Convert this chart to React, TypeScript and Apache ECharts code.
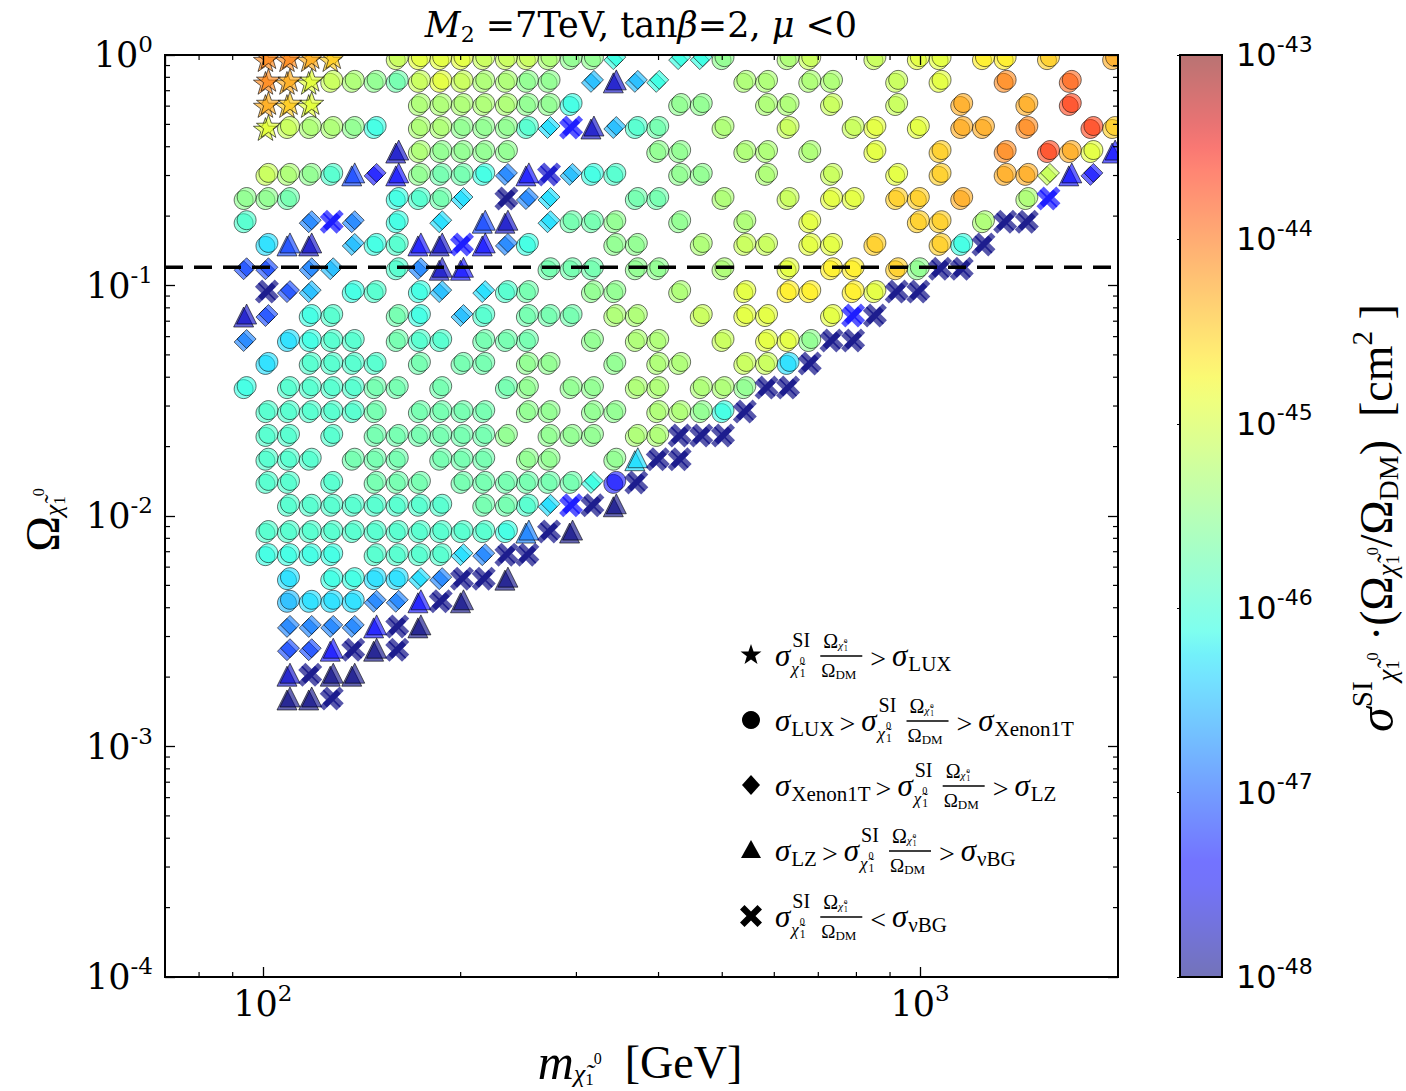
import { useEffect, useRef } from "react";
import * as echarts from "echarts";

const SERIF = '"Liberation Serif", "DejaVu Serif", serif';
const WIDE_SERIF = '"DejaVu Serif", "Liberation Serif", serif';
const SANS = '"DejaVu Sans", sans-serif';

// Neutralino mass of each scan column (GeV)
const MASS_COLUMNS = [
  94.5, 102, 110, 118.7, 128, 138, 149, 161, 174, 187.5, 202, 218, 236, 254, 274, 296, 319, 345, 372, 401,
  433, 467, 504, 544, 587, 633, 683, 737, 795, 858, 926, 999, 1078, 1163, 1255, 1354, 1461, 1576, 1701, 1835, 1980,
];

// Relic density of each scan row
const OMEGA_ROWS = [
  0.979, 0.78, 0.619, 0.492, 0.387, 0.308, 0.242, 0.192, 0.153, 0.12, 0.0955, 0.0752, 0.0586, 0.0466,
  0.0366, 0.0288, 0.0227, 0.0179, 0.0142, 0.0113, 0.00869, 0.0069, 0.00543, 0.00433, 0.00337, 0.00267,
  0.00208, 0.00164,
];

// Scan points per row: "<column><class><level>"
// class: s > LUX, o LUX..Xenon1T, d Xenon1T..LZ, t LZ..nuBG, x < nuBG
const SCAN_ROWS = [
  "1sr 2sr 3sq 4sp 7om 8on 9on 10on 11om 12om 13om 14ol 15ok 16ok 17dh 20dh 21dh 22ok 25ol 26om 29om 31on 32on 34oo 35oo 37op 40oq",
  "1sr 2sq 3sn 4om 5ol 6ok 7oj 8om 9on 10om 11ol 12ol 13ok 14ok 16df 17tb 18df 19dh 23ol 24ol 26ol 27ol 30om 32on 35or 38os",
  "1sq 2sp 3sn 8ol 9ol 10ol 11ol 12ol 13ok 14ok 15oh 20ok 21ok 24ol 25ol 27om 30om 33oq 36oq 38ot",
  "1sn 2om 3ol 4ol 5ok 6oh 8ol 9ol 10ok 11ok 12ok 13oi 14dg 15xc 16tb 17df 18oi 19oj 22ol 25om 28om 29on 31on 33oq 34oq 36or 39ot 40op",
  "7tb 8ol 9ok 10ok 11ok 12ok 19ok 20ok 23ol 24ol 26ol 29on 32op 35or 37ot 38oq 39on 40tc",
  "1om 2ol 3ok 4oi 5td 6dc 7tc 8ok 9oj 10oj 11oh 12de 13tc 14xb 15df 16oh 17oi 20ok 21ok 24ol 27om 30on 32op 35oq 36oq 37dm 38tc 39dc",
  "0ok 1ok 2oj 7oh 8oi 9oj 10dg 12xa 13de 14dg 18oj 19oj 22ol 25om 27on 28on 30op 31op 33oq 36ol 37xc",
  "0oi 3de 4xc 5de 7oh 9dg 11td 12tb 14dg 15oj 16oj 17ok 20ok 23ol 26on 31op 32op 34ol 35xa 36xa",
  "1og 2td 3tb 5df 6oh 7oi 8tc 9tb 10xc 11tc 12de 13oh 17ok 18ok 21ol 23om 24om 26on 27on 29op 32op 33oh 34xa",
  "0dd 1dd 3de 4df 7oi 8de 9tb 10tc 14oj 15oj 16oj 18ok 19ok 22ol 25on 27oo 28oo 30op 31ok 32xa 33xa",
  "1xa 2dd 3df 5oh 6oi 8oh 9df 11dg 12oi 13oj 16ok 17ok 20ol 23on 25oo 26oo 28oo 29on 30xa 31xa",
  "0tb 1dd 3oh 4oi 7oj 8oh 10df 11oi 13oj 14oj 15oj 17ol 18ol 21om 23on 24on 27on 28xc 29xa",
  "0de 2og 3oh 4oi 5oi 7oj 8oi 9oi 11oj 12oj 13oj 16ok 18ol 19ol 22om 24on 25on 26ok 27xa 28xa",
  "1og 3oi 4oi 5oi 6oi 8oj 10oj 11oj 13ok 14ok 17ok 19ol 20ol 23om 24om 25og 26xa",
  "0oh 2oi 3oi 4oi 5oi 6oj 7oj 9oj 12oj 13ok 15ok 16ok 18ol 19ol 21ol 22ol 23ok 24xa 25xa",
  "1oi 2oi 3oi 4oi 5oi 6oj 8oj 9oj 10oj 11oj 13ok 14ok 16ok 17ok 19ol 20ol 21ok 22oh 23xa",
  "1oi 2oi 4oi 6oj 7oj 8oj 9oj 10oj 11oj 12ok 14ok 15ok 16ok 18ol 19ol 20xa 21xa 22xa",
  "1oi 2oi 3oi 5oj 6oj 7oj 9oj 10oj 11oj 13ok 14ok 17ok 18tg 19xa 20xa",
  "1oi 2oi 4oi 6oj 7oj 8oj 10oj 11oj 12oj 13oj 14oj 15oj 16dh 17oc 18xa",
  "2oi 3oi 4oi 5oi 6oi 7oi 8oi 9oi 11oj 12oj 13oi 14dg 15xc 16xa 17ta",
  "1oi 2oi 3oi 4oi 5oi 6oi 7oi 8oi 9oi 10oi 11oi 12oh 13te 14xa 15ta",
  "1oh 2oh 3oh 4oh 6oi 7oi 8oi 9oi 10dg 11de 12xa 13xa",
  "2og 4oh 5oh 6og 7og 8dg 9de 10xa 11xa 12ta",
  "2of 3og 4og 5og 6de 7de 8tc 9xa 10ta",
  "2de 3de 4de 5de 6tc 7xa 8ta",
  "2dd 3dd 4tc 5xa 6ta 7xa",
  "2tb 3xa 4ta 5ta",
  "2ta 3ta 4xa",
];

// log10 of sigma_SI * (Omega / Omega_DM) in cm^2 for each level code
const SIGMA_LEVELS: Record<string, number> = {
  a: -48.0, b: -47.7, c: -47.4, d: -47.1, e: -46.8, f: -46.5, g: -46.3, h: -46.1, i: -45.95, j: -45.72,
  k: -45.5, l: -45.3, m: -45.1, n: -44.9, o: -44.7, p: -44.5, q: -44.3, r: -44.1, s: -43.9, t: -43.7,
};

const PLANCK_OMEGA = 0.12;
const X_RANGE = [71, 2000];
const Y_RANGE = [1e-4, 1];
const CBAR_RANGE = [-48, -43];
const X_MINOR = [80, 90, 200, 300, 400, 500, 600, 700, 800, 900];

const STAR_PATH =
  "path://M0,-10L2.35,-3.24L9.51,-3.09L3.8,1.24L5.88,8.09L0,4L-5.88,8.09L-3.8,1.24L-9.51,-3.09L-2.35,-3.24Z";
const CROSS_PATH = "path://M-10,-6L-6,-10L0,-4L6,-10L10,-6L4,0L10,6L6,10L0,4L-6,10L-10,6L-4,0Z";

const MARKER_ORDER = ["o", "d", "t", "x", "s"];
const MARKER_STYLE: Record<string, { symbol: string; size: number; border: boolean; opacity: number }> = {
  o: { symbol: "circle", size: 19, border: true, opacity: 0.55 },
  d: { symbol: "diamond", size: 19, border: true, opacity: 0.58 },
  t: { symbol: "triangle", size: 20, border: true, opacity: 0.6 },
  x: { symbol: CROSS_PATH, size: 21, border: false, opacity: 0.66 },
  s: { symbol: STAR_PATH, size: 24, border: true, opacity: 0.6 },
};

// matplotlib "jet" colormap
function interp(t: number, pts: number[][]) {
  for (let i = 0; i < pts.length - 1; i++) {
    const [x0, y0] = pts[i];
    const [x1, y1] = pts[i + 1];
    if (t <= x1) return y0 + ((y1 - y0) * (t - x0)) / (x1 - x0);
  }
  return pts[pts.length - 1][1];
}
function jet(t: number) {
  const c = Math.min(1, Math.max(0, t));
  const r = interp(c, [[0, 0], [0.35, 0], [0.66, 1], [0.89, 1], [1, 0.5]]);
  const g = interp(c, [[0, 0], [0.125, 0], [0.375, 1], [0.64, 1], [0.91, 0], [1, 0]]);
  const b = interp(c, [[0, 0.5], [0.11, 1], [0.34, 1], [0.65, 0], [1, 0]]);
  return [r * 255, g * 255, b * 255];
}
function levelColor(logv: number) {
  const [r, g, b] = jet((logv - CBAR_RANGE[0]) / (CBAR_RANGE[1] - CBAR_RANGE[0]));
  return `rgb(${Math.round(r)},${Math.round(g)},${Math.round(b)})`;
}
function blended(t: number, alpha: number) {
  const [r, g, b] = jet(t);
  const f = (v: number) => Math.round(v * alpha + 255 * (1 - alpha));
  return `rgb(${f(r)},${f(g)},${f(b)})`;
}

function buildScanData() {
  const out: Record<string, number[][]> = { o: [], d: [], t: [], x: [], s: [] };
  SCAN_ROWS.forEach((row, r) => {
    row.split(" ").forEach((tok) => {
      const m = /^(\d+)([sodtx])([a-t])$/.exec(tok);
      if (!m) return;
      out[m[2]].push([MASS_COLUMNS[+m[1]], OMEGA_ROWS[r], SIGMA_LEVELS[m[3]]]);
    });
  });
  return out;
}

// text measuring for the legend formulas
const measureCtx = typeof document !== "undefined" ? document.createElement("canvas").getContext("2d") : null;
function textWidth(s: string, size: number, italic = false) {
  if (!measureCtx) return s.length * size * 0.5;
  measureCtx.font = `${italic ? "italic " : ""}${size}px ${SERIF}`;
  return measureCtx.measureText(s).width;
}
function label(s: string, x: number, y: number, size: number, italic = false) {
  return {
    type: "text",
    x,
    y,
    style: {
      text: s,
      fontSize: size,
      fontFamily: SERIF,
      fontStyle: italic ? "italic" : "normal",
      fill: "#000",
      align: "left",
      verticalAlign: "middle",
    },
  };
}
function chi(x: number, y: number, size: number) {
  const w = textWidth("χ", size, true);
  return [
    label("χ̃", x, y, size, true),
    label("1", x + w + 1, y + size * 0.3, size * 0.68),
    label("0", x + w + 1, y - size * 0.42, size * 0.6),
  ];
}

type Piece = { k: "sig"; sub: string } | { k: "sigchi" } | { k: "frac" } | { k: "rel"; s: string };
function buildFormula(pieces: Piece[], x0: number) {
  const out: any[] = [];
  let x = x0;
  for (const p of pieces) {
    if (p.k === "sig") {
      out.push(label("σ", x, 0, 31, true));
      const w = textWidth("σ", 31, true);
      out.push(label(p.sub, x + w + 1, 9, 21));
      x += w + 1 + textWidth(p.sub, 21) + 5;
    } else if (p.k === "sigchi") {
      out.push(label("σ", x, 0, 31, true));
      const w = textWidth("σ", 31, true);
      out.push(label("SI", x + w + 2, -15, 20));
      out.push(...chi(x + w + 1, 13, 17));
      x += w + Math.max(textWidth("SI", 20), 24) + 6;
    } else if (p.k === "frac") {
      const ow = textWidth("Ω", 20);
      out.push(label("Ω", x + 3, -14, 20));
      out.push(...chi(x + 3 + ow, -10, 11));
      out.push({ type: "line", shape: { x1: x, y1: 1, x2: x + 42, y2: 1 }, style: { stroke: "#000", lineWidth: 1.6 } });
      const dw = textWidth("Ω", 19);
      out.push(label("Ω", x + 1, 15, 19));
      out.push(label("DM", x + 1 + dw, 19, 13));
      x += 50;
    } else {
      out.push(label(p.s, x, 3, 28));
      x += textWidth(p.s, 28) + 6;
    }
  }
  return out;
}

const LEGEND_ROWS: { marker: string; y: number; pieces: Piece[] }[] = [
  { marker: "s", y: 655, pieces: [{ k: "sigchi" }, { k: "frac" }, { k: "rel", s: ">" }, { k: "sig", sub: "LUX" }] },
  {
    marker: "o",
    y: 720,
    pieces: [{ k: "sig", sub: "LUX" }, { k: "rel", s: ">" }, { k: "sigchi" }, { k: "frac" }, { k: "rel", s: ">" }, { k: "sig", sub: "Xenon1T" }],
  },
  {
    marker: "d",
    y: 785,
    pieces: [{ k: "sig", sub: "Xenon1T" }, { k: "rel", s: ">" }, { k: "sigchi" }, { k: "frac" }, { k: "rel", s: ">" }, { k: "sig", sub: "LZ" }],
  },
  {
    marker: "t",
    y: 850,
    pieces: [{ k: "sig", sub: "LZ" }, { k: "rel", s: ">" }, { k: "sigchi" }, { k: "frac" }, { k: "rel", s: ">" }, { k: "sig", sub: "νBG" }],
  },
  { marker: "x", y: 916, pieces: [{ k: "sigchi" }, { k: "frac" }, { k: "rel", s: "<" }, { k: "sig", sub: "νBG" }] },
];

function legendSymbol(m: string) {
  const style = { fill: "#000" };
  if (m === "o") return { type: "circle", shape: { cx: 0, cy: 0, r: 9 }, style };
  if (m === "d") return { type: "polygon", shape: { points: [[0, -10], [9, 0], [0, 10], [-9, 0]] }, style };
  if (m === "t") return { type: "polygon", shape: { points: [[0, -10], [10, 8], [-10, 8]] }, style };
  if (m === "x")
    return {
      type: "polygon",
      shape: {
        points: [[-11, -6.5], [-6.5, -11], [0, -4.5], [6.5, -11], [11, -6.5], [4.5, 0], [11, 6.5], [6.5, 11], [0, 4.5], [-6.5, 11], [-11, 6.5], [-4.5, 0]],
      },
      style,
    };
  const pts: number[][] = [];
  for (let i = 0; i < 10; i++) {
    const a = -Math.PI / 2 + (i * Math.PI) / 5;
    const rr = i % 2 === 0 ? 11 : 4.4;
    pts.push([rr * Math.cos(a), rr * Math.sin(a)]);
  }
  return { type: "polygon", shape: { points: pts }, style };
}

function buildOption() {
  const scan = buildScanData();
  const series: any[] = [];
  MARKER_ORDER.forEach((m, idx) => {
    const st = MARKER_STYLE[m];
    [[-3, 3], [0, 0]].forEach((offset, k) => {
      series.push({
        type: "scatter",
        xAxisIndex: 0,
        yAxisIndex: 0,
        data: scan[m],
        symbol: st.symbol,
        symbolSize: st.size,
        symbolKeepAspect: true,
        symbolOffset: offset,
        silent: true,
        z: 2 + idx * 2 + k,
        itemStyle: {
          color: (p: any) => levelColor(p.value[2]),
          opacity: st.opacity,
          borderColor: "#000",
          borderWidth: st.border ? 1 : 0,
        },
      });
    });
  });

  // Planck relic density
  series.push({
    type: "line",
    xAxisIndex: 0,
    yAxisIndex: 0,
    data: [[X_RANGE[0], PLANCK_OMEGA], [X_RANGE[1], PLANCK_OMEGA]],
    symbol: "none",
    silent: true,
    z: 20,
    lineStyle: { color: "#000", width: 3.5, type: [18, 11] },
  });

  // minor ticks on all four spines
  const yMinor: number[] = [];
  for (let d = -4; d < 0; d++) for (let k = 2; k <= 9; k++) yMinor.push(k * Math.pow(10, d));
  const tickData = [...X_MINOR.map((v) => [v, 0.01, 0]), ...yMinor.map((v) => [100, v, 1])];
  series.push({
    type: "custom",
    xAxisIndex: 0,
    yAxisIndex: 0,
    data: tickData,
    silent: true,
    z: 30,
    renderItem: (params: any, api: any) => {
      const cs = params.coordSys;
      const style = { stroke: "#000", lineWidth: 1.2 };
      if (api.value(2) === 0) {
        const px = api.coord([api.value(0), 0.01])[0];
        return {
          type: "group",
          children: [
            { type: "line", shape: { x1: px, y1: cs.y + cs.height, x2: px, y2: cs.y + cs.height - 5 }, style },
            { type: "line", shape: { x1: px, y1: cs.y, x2: px, y2: cs.y + 5 }, style },
          ],
        };
      }
      const py = api.coord([100, api.value(1)])[1];
      return {
        type: "group",
        children: [
          { type: "line", shape: { x1: cs.x, y1: py, x2: cs.x + 5, y2: py }, style },
          { type: "line", shape: { x1: cs.x + cs.width, y1: py, x2: cs.x + cs.width - 5, y2: py }, style },
        ],
      };
    },
  });

  const pow10Label = (v: number) => `{b|10}{s|${Math.round(Math.log10(v))}}`;
  const mathRich = {
    b: { fontFamily: WIDE_SERIF, fontSize: 35, color: "#000" },
    s: { fontFamily: WIDE_SERIF, fontSize: 23, color: "#000", padding: [0, 0, 22, 0] },
  };
  const majorTick = { show: true, inside: true, length: 10, lineStyle: { color: "#000", width: 1.3 } };

  const stops: any[] = [];
  for (let i = 0; i <= 40; i++) stops.push({ offset: i / 40, color: blended(i / 40, 0.55) });

  const legendGraphics = LEGEND_ROWS.map((row) => ({
    type: "group",
    x: 751,
    y: row.y,
    z: 120,
    children: [legendSymbol(row.marker), ...buildFormula(row.pieces, 24)],
  }));

  return {
    animation: false,
    backgroundColor: "#fff",
    grid: [
      { left: 165, top: 55, width: 953, height: 922 },
      { left: 1180, top: 55, width: 42, height: 922 },
    ],
    xAxis: [
      {
        type: "log",
        gridIndex: 0,
        min: X_RANGE[0],
        max: X_RANGE[1],
        position: "bottom",
        z: 30,
        axisLine: { show: false },
        axisTick: majorTick,
        splitLine: { show: false },
        axisLabel: { margin: 4, showMinLabel: false, showMaxLabel: false, formatter: pow10Label, rich: mathRich },
      },
      {
        type: "log",
        gridIndex: 0,
        min: X_RANGE[0],
        max: X_RANGE[1],
        position: "top",
        z: 30,
        axisLine: { show: false },
        axisTick: majorTick,
        splitLine: { show: false },
        axisLabel: { show: false },
      },
      { type: "value", gridIndex: 1, min: 0, max: 1, show: false },
    ],
    yAxis: [
      {
        type: "log",
        gridIndex: 0,
        min: Y_RANGE[0],
        max: Y_RANGE[1],
        position: "left",
        z: 30,
        axisLine: { show: false },
        axisTick: majorTick,
        splitLine: { show: false },
        axisLabel: { margin: 12, formatter: pow10Label, rich: mathRich },
      },
      {
        type: "log",
        gridIndex: 0,
        min: Y_RANGE[0],
        max: Y_RANGE[1],
        position: "right",
        z: 30,
        axisLine: { show: false },
        axisTick: majorTick,
        splitLine: { show: false },
        axisLabel: { show: false },
      },
      {
        type: "value",
        gridIndex: 1,
        min: CBAR_RANGE[0],
        max: CBAR_RANGE[1],
        interval: 1,
        position: "right",
        z: 30,
        axisLine: { show: false },
        axisTick: { show: true, inside: true, length: 10, lineStyle: { color: "#000", width: 1 } },
        splitLine: { show: false },
        axisLabel: {
          margin: 14,
          formatter: (v: number) => `{b|10}{s|${v}}`,
          rich: {
            b: { fontFamily: SANS, fontSize: 32, color: "#000" },
            s: { fontFamily: SANS, fontSize: 22, color: "#000", padding: [0, 0, 22, 0] },
          },
        },
      },
    ],
    series,
    graphic: [
      // keep the marker rows cut at the frame
      { type: "rect", z: 100, shape: { x: 160, y: 0, width: 1018, height: 54 }, style: { fill: "#fff" } },
      { type: "rect", z: 100, shape: { x: 1119, y: 0, width: 58, height: 990 }, style: { fill: "#fff" } },
      { type: "rect", z: 110, shape: { x: 165, y: 55, width: 953, height: 922 }, style: { fill: "none", stroke: "#000", lineWidth: 2 } },
      {
        type: "rect",
        z: 1,
        shape: { x: 1180, y: 55, width: 42, height: 922 },
        style: { fill: new echarts.graphic.LinearGradient(0, 1, 0, 0, stops) },
      },
      { type: "rect", z: 110, shape: { x: 1180, y: 55, width: 42, height: 922 }, style: { fill: "none", stroke: "#000", lineWidth: 2 } },
      {
        type: "text",
        z: 120,
        x: 641,
        y: 25,
        style: {
          text: "{i|M}{sub|2}{n| =7TeV, tan}{i|β}{n|=2, }{i|μ}{n| <0}",
          align: "center",
          verticalAlign: "middle",
          fill: "#000",
          rich: {
            i: { fontFamily: WIDE_SERIF, fontSize: 35, fontStyle: "italic", fill: "#000" },
            n: { fontFamily: WIDE_SERIF, fontSize: 35, fill: "#000" },
            sub: { fontFamily: WIDE_SERIF, fontSize: 22, fill: "#000", padding: [18, 0, 0, 0] },
          },
        },
      },
      {
        type: "text",
        z: 120,
        x: 640,
        y: 1062,
        style: {
          text: "{i|m}{c|χ̃}{l|1}{u|0}{n|  [GeV]}",
          align: "center",
          verticalAlign: "middle",
          fill: "#000",
          rich: {
            i: { fontFamily: SERIF, fontSize: 50, fontStyle: "italic", fill: "#000" },
            c: { fontFamily: SERIF, fontSize: 26, fontStyle: "italic", fill: "#000", padding: [22, 0, 0, 0] },
            l: { fontFamily: SERIF, fontSize: 17, fill: "#000", padding: [34, 0, 0, 0] },
            u: { fontFamily: SERIF, fontSize: 16, fill: "#000", padding: [0, 0, 8, 0] },
            n: { fontFamily: SERIF, fontSize: 46, fill: "#000" },
          },
        },
      },
      {
        type: "text",
        z: 120,
        x: 42,
        y: 520,
        rotation: Math.PI / 2,
        style: {
          text: "{o|Ω}{c|χ̃}{l|1}{u|0}",
          align: "center",
          verticalAlign: "middle",
          fill: "#000",
          rich: {
            o: { fontFamily: SERIF, fontSize: 48, fill: "#000" },
            c: { fontFamily: SERIF, fontSize: 26, fontStyle: "italic", fill: "#000", padding: [22, 0, 0, 0] },
            l: { fontFamily: SERIF, fontSize: 17, fill: "#000", padding: [34, 0, 0, 0] },
            u: { fontFamily: SERIF, fontSize: 16, fill: "#000", padding: [0, 0, 8, 0] },
          },
        },
      },
      {
        type: "text",
        z: 120,
        x: 1376,
        y: 518,
        rotation: Math.PI / 2,
        style: {
          text: "{i|σ}{sup|SI}{c|χ̃}{l|1}{u|0}{n| ·(Ω}{c|χ̃}{l|1}{u|0}{n|/Ω}{dm|DM}{n|)  [cm}{sup|2}{n| ]}",
          align: "center",
          verticalAlign: "middle",
          fill: "#000",
          rich: {
            i: { fontFamily: SERIF, fontSize: 50, fontStyle: "italic", fill: "#000" },
            n: { fontFamily: SERIF, fontSize: 46, fill: "#000" },
            sup: { fontFamily: SERIF, fontSize: 29, fill: "#000", padding: [0, 0, 28, 0] },
            c: { fontFamily: SERIF, fontSize: 27, fontStyle: "italic", fill: "#000", padding: [22, 0, 0, 0] },
            l: { fontFamily: SERIF, fontSize: 18, fill: "#000", padding: [34, 0, 0, 0] },
            u: { fontFamily: SERIF, fontSize: 16, fill: "#000", padding: [0, 0, 8, 0] },
            dm: { fontFamily: SERIF, fontSize: 28, fill: "#000", padding: [24, 0, 0, 0] },
          },
        },
      },
      ...legendGraphics,
    ],
  };
}

export default function App() {
  const ref = useRef<HTMLDivElement>(null);
  useEffect(() => {
    if (!ref.current) return;
    const chart = echarts.init(ref.current, undefined, { renderer: "svg" });
    chart.setOption(buildOption() as any);
    return () => chart.dispose();
  }, []);
  return <div ref={ref} style={{ position: "absolute", left: 0, top: 0, width: 1406, height: 1091, background: "#fff" }} />;
}
